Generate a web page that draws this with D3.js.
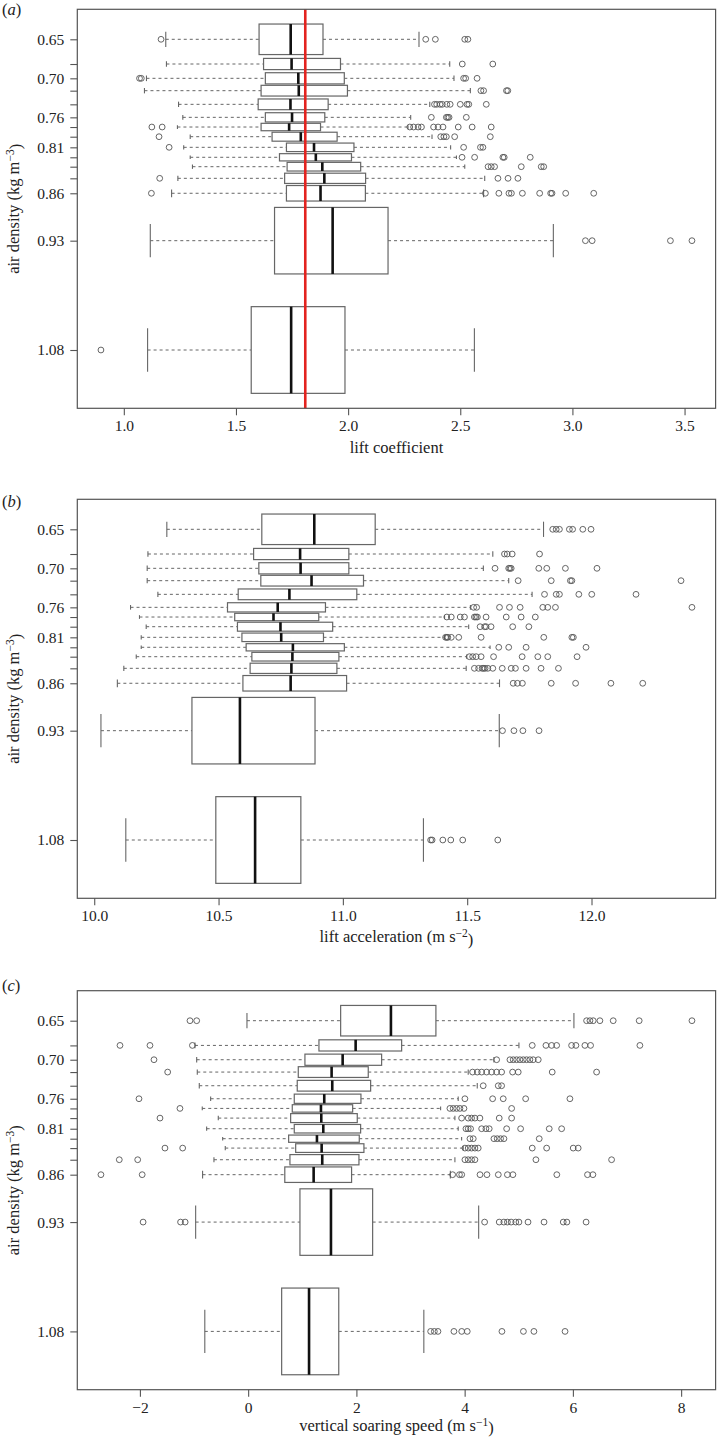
<!DOCTYPE html>
<html><head><meta charset="utf-8">
<script src="https://cdn.jsdelivr.net/npm/d3@7"></script>
<style>
body{margin:0;background:#fff}
svg{display:block}
text{font-family:"Liberation Serif","Times New Roman",Times,serif;fill:#222}
</style>
</head><body>
<svg id="chart" width="717" height="1438"></svg>
<script>
// ---------------- DATA ----------------
// plotted air-density position of each of the 15 boxes
const densityPositions = [0.65, 0.6842, 0.704, 0.7211, 0.740, 0.758, 0.7714, 0.7848, 0.7995, 0.8133, 0.8263, 0.8424, 0.8631, 0.9287, 1.08];
const densityTickIndex = [0, 2, 5, 8, 12, 13, 14];
const densityTickLabels = ["0.65", "0.70", "0.76", "0.81", "0.86", "0.93", "1.08"];
// number of observations per density class (box thickness ~ sqrt(n))
const sampleSizes = [372, 50, 50, 46, 46, 34, 22, 32, 29, 21, 30, 42, 96, 1766, 3000];

// (a) lift coefficient
const liftCoefLow = [1.187, 1.190, 1.101, 1.092, 1.244, 1.263, 1.239, 1.296, 1.267, 1.296, 1.306, 1.241, 1.213, 1.118, 1.106];
const liftCoefQ1  = [1.603, 1.623, 1.631, 1.612, 1.599, 1.631, 1.612, 1.661, 1.725, 1.694, 1.728, 1.717, 1.725, 1.672, 1.568];
const liftCoefMed = [1.744, 1.748, 1.778, 1.780, 1.743, 1.750, 1.737, 1.789, 1.848, 1.856, 1.885, 1.894, 1.877, 1.931, 1.746];
const liftCoefQ3  = [1.888, 1.966, 1.983, 1.997, 1.911, 1.896, 1.877, 1.951, 2.026, 2.015, 2.056, 2.078, 2.077, 2.178, 1.986];
const liftCoefHigh= [2.316, 2.453, 2.472, 2.545, 2.364, 2.279, 2.267, 2.374, 2.457, 2.483, 2.520, 2.609, 2.604, 2.915, 2.563];
const liftCoefOutliers = [
  [1.166, 2.346, 2.389, 2.520, 2.534],
  [2.509, 2.645],
  [1.070, 1.078, 2.515, 2.524, 2.575],
  [2.592, 2.604, 2.706, 2.712],
  [2.385, 2.395, 2.41, 2.42, 2.44, 2.455, 2.50, 2.53, 2.538, 2.616],
  [2.371, 2.438, 2.444, 2.450, 2.527],
  [1.125, 1.171, 2.275, 2.292, 2.312, 2.327, 2.381, 2.401, 2.423, 2.491, 2.553, 2.638],
  [1.157, 2.413, 2.427, 2.438, 2.475, 2.634],
  [1.202, 2.515, 2.590, 2.601],
  [2.508, 2.564, 2.690, 2.696, 2.812],
  [2.624, 2.638, 2.653, 2.772, 2.861, 2.872],
  [1.160, 2.668, 2.713, 2.757],
  [1.123, 2.612, 2.672, 2.717, 2.728, 2.777, 2.854, 2.903, 2.909, 2.970, 3.095],
  [3.058, 3.088, 3.437, 3.533],
  [0.898]
];
const liftCoefReference = 1.809;
const liftCoefTicks = [1.0, 1.5, 2.0, 2.5, 3.0, 3.5];

// (b) lift acceleration
const liftAccLow = [10.292, 10.216, 10.213, 10.213, 10.256, 10.146, 10.182, 10.209, 10.189, 10.189, 10.169, 10.119, 10.093, 10.027, 10.127];
const liftAccQ1  = [10.674, 10.641, 10.662, 10.670, 10.579, 10.536, 10.565, 10.576, 10.594, 10.611, 10.634, 10.627, 10.598, 10.393, 10.489];
const liftAccMed = [10.885, 10.828, 10.830, 10.874, 10.785, 10.738, 10.721, 10.749, 10.752, 10.799, 10.797, 10.793, 10.790, 10.586, 10.647];
const liftAccQ3  = [11.130, 11.024, 11.024, 11.083, 11.056, 10.930, 10.903, 10.959, 10.922, 11.006, 10.984, 10.976, 11.015, 10.888, 10.831];
const liftAccHigh= [11.807, 11.603, 11.565, 11.667, 11.761, 11.513, 11.409, 11.506, 11.409, 11.592, 11.498, 11.496, 11.630, 11.629, 11.324];
const liftAccOutliers = [
  [11.844, 11.858, 11.871, 11.911, 11.924, 11.965, 11.998],
  [11.650, 11.661, 11.681, 11.791],
  [11.612, 11.667, 11.672, 11.677, 11.788, 11.820, 11.895, 12.022],
  [11.705, 11.838, 11.915, 11.921, 12.360],
  [11.811, 11.858, 11.871, 11.949, 12.001, 12.179],
  [11.526, 11.538, 11.630, 11.670, 11.713, 11.804, 11.824, 11.855, 12.404],
  [11.418, 11.436, 11.472, 11.489, 11.529, 11.535, 11.541, 11.576, 11.657, 11.717, 11.774],
  [11.552, 11.570, 11.576, 11.596, 11.683, 11.748],
  [11.413, 11.418, 11.422, 11.436, 11.466, 11.556, 11.808, 11.921, 11.927],
  [11.627, 11.667, 11.737, 11.978],
  [11.509, 11.522, 11.536, 11.556, 11.606, 11.721, 11.784, 11.824, 11.942],
  [11.529, 11.546, 11.560, 11.566, 11.572, 11.583, 11.603, 11.641, 11.677, 11.694, 11.737, 11.797, 11.867],
  [11.685, 11.702, 11.722, 11.838, 11.936, 12.078, 12.206],
  [11.642, 11.688, 11.724, 11.789],
  [11.353, 11.359, 11.402, 11.434, 11.482, 11.623]
];
const liftAccTicks = [10.0, 10.5, 11.0, 11.5, 12.0];

// (c) vertical soaring speed
const soarLow = [-0.022, -0.983, -0.951, -0.940, -0.903, -0.693, -0.848, -0.552, -0.767, -0.471, -0.423, -0.632, -0.842, -0.970, -0.801];
const soarQ1  = [1.709, 1.308, 1.049, 0.926, 0.907, 0.852, 0.815, 0.785, 0.852, 0.748, 0.878, 0.772, 0.677, 0.957, 0.619];
const soarMed = [2.638, 1.986, 1.746, 1.542, 1.554, 1.406, 1.345, 1.351, 1.388, 1.271, 1.358, 1.369, 1.210, 1.530, 1.125];
const soarQ3  = [3.469, 2.836, 2.466, 2.219, 2.263, 2.084, 1.931, 2.016, 2.078, 2.053, 2.139, 2.047, 1.911, 2.300, 1.674];
const soarHigh= [6.019, 5.003, 4.541, 4.066, 4.233, 3.881, 3.556, 3.820, 3.881, 3.944, 3.974, 3.820, 3.736, 4.259, 3.246];
const soarOutliers = [
  [-1.075, -0.951, 6.253, 6.315, 6.376, 6.499, 6.745, 7.225, 8.20],
  [-2.368, -1.814, -1.03, 5.249, 5.502, 5.607, 5.700, 5.976, 6.056, 6.222, 6.327, 7.238],
  [-1.740, 4.591, 4.837, 4.898, 4.960, 5.021, 5.083, 5.144, 5.206, 5.267, 5.360],
  [-1.487, 4.147, 4.233, 4.314, 4.406, 4.498, 4.591, 4.683, 4.886, 4.990, 5.618, 6.438],
  [4.343, 4.621, 4.683],
  [-2.017, 4.005, 4.517, 4.713, 5.127, 5.945],
  [-1.260, 3.728, 3.789, 3.851, 3.913, 3.987, 4.868],
  [-1.629, 3.944, 4.066, 4.128, 4.190, 4.282, 4.639, 4.868],
  [4.024, 4.066, 4.110, 4.314, 4.393, 4.454, 4.776, 5.034, 5.563, 5.792],
  [4.098, 4.159, 4.541, 4.602, 4.664, 4.726, 5.378],
  [-1.537, -1.210, 4.005, 4.066, 4.128, 4.190, 4.251, 5.249, 5.515, 6.006, 6.098],
  [-2.381, -2.041, 4.005, 4.066, 4.128, 4.190, 5.317, 6.715],
  [-2.72, -1.958, 3.778, 3.904, 3.946, 4.284, 4.412, 4.622, 4.790, 4.892, 5.703, 6.270, 6.370],
  [-1.941, -1.249, -1.164, 4.369, 4.639, 4.724, 4.790, 4.859, 4.944, 5.003, 5.171, 5.467, 5.822, 5.889, 6.244],
  [3.372, 3.440, 3.507, 3.802, 3.946, 4.048, 4.689, 5.086, 5.280, 5.855]
];
const soarTicks = [-2, 0, 2, 4, 6, 8];

// ---------------- LAYOUT ----------------
const svg = d3.select("#chart");
const L = 77.3, R = 715.6, H = 399;
const panelTops = [9.3, 499.3, 990.7];
const yDomain = [0.60848, 1.16068];
const lineCol = "#666", outCol = "#555", frameCol = "#555";
const widthScale = d3.scaleSqrt().domain([0, d3.max(sampleSizes)]).range([0, 86.7]);

function paddedDomain(lows, highs, outs) {
  const all = lows.concat(highs, outs.flat());
  const mn = d3.min(all), mx = d3.max(all), pad = (mx - mn) * 0.04;
  return [mn - pad, mx + pad];
}

function drawPanel(cfg) {
  const top = cfg.top, bottom = top + H;
  const g = svg.append("g");
  const x = d3.scaleLinear().domain(paddedDomain(cfg.low, cfg.high, cfg.outliers)).range([L, R]);
  const y = d3.scaleLinear().domain(yDomain).range([top, bottom]);

  const boxes = densityPositions.map((p, i) => ({
    p, n: sampleSizes[i], lo: cfg.low[i], q1: cfg.q1[i], med: cfg.med[i], q3: cfg.q3[i], hi: cfg.high[i], out: cfg.outliers[i]
  }));

  const bg = g.selectAll("g.box").data(boxes).join("g").attr("class", "box");
  // whiskers
  bg.append("line").attr("x1", d => x(d.lo)).attr("x2", d => x(d.q1))
    .attr("y1", d => y(d.p)).attr("y2", d => y(d.p))
    .attr("stroke", lineCol).attr("stroke-width", 1).attr("stroke-dasharray", "3,3");
  bg.append("line").attr("x1", d => x(d.q3)).attr("x2", d => x(d.hi))
    .attr("y1", d => y(d.p)).attr("y2", d => y(d.p))
    .attr("stroke", lineCol).attr("stroke-width", 1).attr("stroke-dasharray", "3,3");
  // caps
  ["lo", "hi"].forEach(k => {
    bg.append("line").attr("x1", d => x(d[k])).attr("x2", d => x(d[k]))
      .attr("y1", d => y(d.p) - widthScale(d.n) / 4).attr("y2", d => y(d.p) + widthScale(d.n) / 4)
      .attr("stroke", lineCol).attr("stroke-width", 1.1);
  });
  // box
  bg.append("rect").attr("x", d => x(d.q1)).attr("width", d => x(d.q3) - x(d.q1))
    .attr("y", d => y(d.p) - widthScale(d.n) / 2).attr("height", d => widthScale(d.n))
    .attr("fill", "#fff").attr("stroke", lineCol).attr("stroke-width", 1.2);
  // median
  bg.append("line").attr("x1", d => x(d.med)).attr("x2", d => x(d.med))
    .attr("y1", d => y(d.p) - widthScale(d.n) / 2).attr("y2", d => y(d.p) + widthScale(d.n) / 2)
    .attr("stroke", "#111").attr("stroke-width", 2.6);
  // outliers
  bg.selectAll("circle").data(d => d.out.map(v => ({ v, p: d.p }))).join("circle")
    .attr("cx", d => x(d.v)).attr("cy", d => y(d.p)).attr("r", 2.9)
    .attr("fill", "none").attr("stroke", outCol).attr("stroke-width", 0.9);

  if (cfg.reference !== undefined) {
    g.append("line").attr("x1", x(cfg.reference)).attr("x2", x(cfg.reference))
      .attr("y1", top).attr("y2", bottom).attr("stroke", "#e3231f").attr("stroke-width", 2.6);
  }

  // frame
  g.append("rect").attr("x", L).attr("y", top).attr("width", R - L).attr("height", H)
    .attr("fill", "none").attr("stroke", frameCol).attr("stroke-width", 1.2);

  // x axis
  const xa = g.append("g").attr("transform", `translate(0,${bottom})`)
    .call(d3.axisBottom(x).tickValues(cfg.ticks).tickSize(7).tickPadding(5).tickFormat(cfg.fmt));
  xa.select(".domain").remove();
  xa.selectAll("line").attr("stroke", frameCol).attr("stroke-width", 1.1);
  xa.selectAll("text").attr("font-size", "15.5px").attr("fill", "#222")
    .attr("font-family", "'Liberation Serif', 'Times New Roman', serif");

  // y axis
  const ya = g.append("g").attr("transform", `translate(${L},0)`)
    .call(d3.axisLeft(y).tickValues(densityPositions).tickSize(7).tickPadding(6)
      .tickFormat((d, i) => { const k = densityTickIndex.indexOf(i); return k >= 0 ? densityTickLabels[k] : ""; }));
  ya.select(".domain").remove();
  ya.selectAll("line").attr("stroke", frameCol).attr("stroke-width", 1.1);
  ya.selectAll("text").attr("font-size", "15.5px").attr("fill", "#222")
    .attr("font-family", "'Liberation Serif', 'Times New Roman', serif");

  // y title
  const yt = g.append("text").attr("transform", `translate(19,${(top + bottom) / 2}) rotate(-90)`)
    .attr("text-anchor", "middle").attr("font-size", "16.5px");
  yt.append("tspan").text("air density (kg m");
  yt.append("tspan").attr("dy", "-0.45em").attr("font-size", "11.5px").text("\u22123");
  yt.append("tspan").attr("dy", "0.45em").text(")");

  // x title
  const xt = g.append("text").attr("x", (L + R) / 2).attr("y", bottom + cfg.titleDy)
    .attr("text-anchor", "middle").attr("font-size", "16.5px");
  xt.append("tspan").text(cfg.title);
  if (cfg.sup) {
    xt.append("tspan").attr("dy", "-0.45em").attr("font-size", "11.5px").text(cfg.sup);
    xt.append("tspan").attr("dy", "0.45em").text(")");
  }

  // panel letter
  const pl = g.append("text").attr("x", 2).attr("y", top + cfg.letterDy).attr("font-size", "16.5px");
  pl.append("tspan").text("(");
  pl.append("tspan").attr("font-style", "italic").text(cfg.letter);
  pl.append("tspan").text(")");
}

drawPanel({ top: panelTops[0], low: liftCoefLow, q1: liftCoefQ1, med: liftCoefMed, q3: liftCoefQ3, high: liftCoefHigh,
  outliers: liftCoefOutliers, reference: liftCoefReference, ticks: liftCoefTicks, fmt: d3.format(".1f"),
  title: "lift coefficient", sup: null, letter: "a", letterDy: 5.5, titleDy: 45 });
drawPanel({ top: panelTops[1], low: liftAccLow, q1: liftAccQ1, med: liftAccMed, q3: liftAccQ3, high: liftAccHigh,
  outliers: liftAccOutliers, ticks: liftAccTicks, fmt: d3.format(".1f"),
  title: "lift acceleration (m s", sup: "\u22122", letter: "b", letterDy: 7.5, titleDy: 44 });
drawPanel({ top: panelTops[2], low: soarLow, q1: soarQ1, med: soarMed, q3: soarQ3, high: soarHigh,
  outliers: soarOutliers, ticks: soarTicks, fmt: d => (d < 0 ? "\u2212" + Math.abs(d) : String(d)),
  title: "vertical soaring speed (m s", sup: "\u22121", letter: "c", letterDy: 0.5, titleDy: 41.5 });
</script>
</body></html>
